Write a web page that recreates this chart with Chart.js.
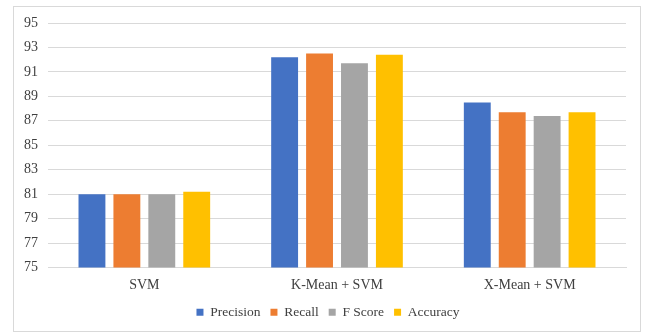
<!DOCTYPE html>
<html>
<head>
<meta charset="utf-8">
<script src="https://cdn.jsdelivr.net/npm/chart.js@4"></script>
<style>
  html, body { margin: 0; padding: 0; background: #fff; }
  #wrap { width: 645px; height: 333px; position: relative; }
</style>
</head>
<body>
<div id="wrap"><canvas id="c" width="645" height="333"></canvas></div>
<script>
// Classifier comparison: four metrics for each method
const categories = ["SVM", "K-Mean + SVM", "X-Mean + SVM"];
const precision = [81.0, 92.2, 88.5];
const recall    = [81.0, 92.5, 87.7];
const fScore    = [81.0, 91.7, 87.4];
const accuracy  = [81.2, 92.4, 87.7];
const yTicks = [75, 77, 79, 81, 83, 85, 87, 89, 91, 93, 95];

const seriesNames  = ["Precision", "Recall", "F Score", "Accuracy"];
const seriesValues = [precision, recall, fScore, accuracy];
const seriesColors = ["#4472c4", "#ed7d31", "#a5a5a5", "#ffc000"];

const FONT = "'Liberation Serif', 'Times New Roman', serif";
const TEXT = "#404040";

// Light frame around the whole chart; legend nudged to sit under the plot's centre
const framePlugin = {
  id: "frame",
  afterLayout(chart) {
    if (chart.legend) {
      chart.legend.left += 8;
      chart.legend.right += 8;
    }
  },
  beforeDraw(chart) {
    const ctx = chart.ctx;
    ctx.save();
    ctx.fillStyle = "#ffffff";
    ctx.fillRect(0, 0, chart.width, chart.height);
    ctx.strokeStyle = "#d9d9d9";
    ctx.lineWidth = 1;
    ctx.strokeRect(13.5, 6.5, 627, 325);
    ctx.restore();
  }
};

new Chart(document.getElementById("c"), {
  type: "bar",
  data: {
    labels: categories,
    datasets: seriesNames.map((name, i) => ({
      label: name,
      data: seriesValues[i],
      backgroundColor: seriesColors[i],
      borderWidth: 0,
      barPercentage: 0.77,
      categoryPercentage: 0.725
    }))
  },
  options: {
    responsive: false,
    animation: false,
    layout: { padding: { left: 14, right: 19, top: 23, bottom: 4 } },
    plugins: {
      legend: {
        position: "bottom",
        labels: {
          font: { family: FONT, size: 13.5 },
          color: TEXT,
          boxWidth: 7,
          boxHeight: 7,
          padding: 10
        }
      },
      tooltip: { enabled: false }
    },
    scales: {
      x: {
        grid: { display: false, drawTicks: false },
        border: { display: true, color: "#d9d9d9" },
        ticks: { font: { family: FONT, size: 14 }, color: TEXT, padding: 9 },
        afterFit(scale) { scale.height = 28; }
      },
      y: {
        min: 75,
        max: 95,
        afterBuildTicks(scale) { scale.ticks = yTicks.map(v => ({ value: v })); },
        grid: { color: "#d9d9d9", drawTicks: false },
        border: { display: false },
        ticks: { font: { family: FONT, size: 14 }, color: TEXT, padding: 10 },
        afterFit(scale) { scale.width = 34; }
      }
    }
  },
  plugins: [framePlugin]
});
</script>
</body>
</html>
